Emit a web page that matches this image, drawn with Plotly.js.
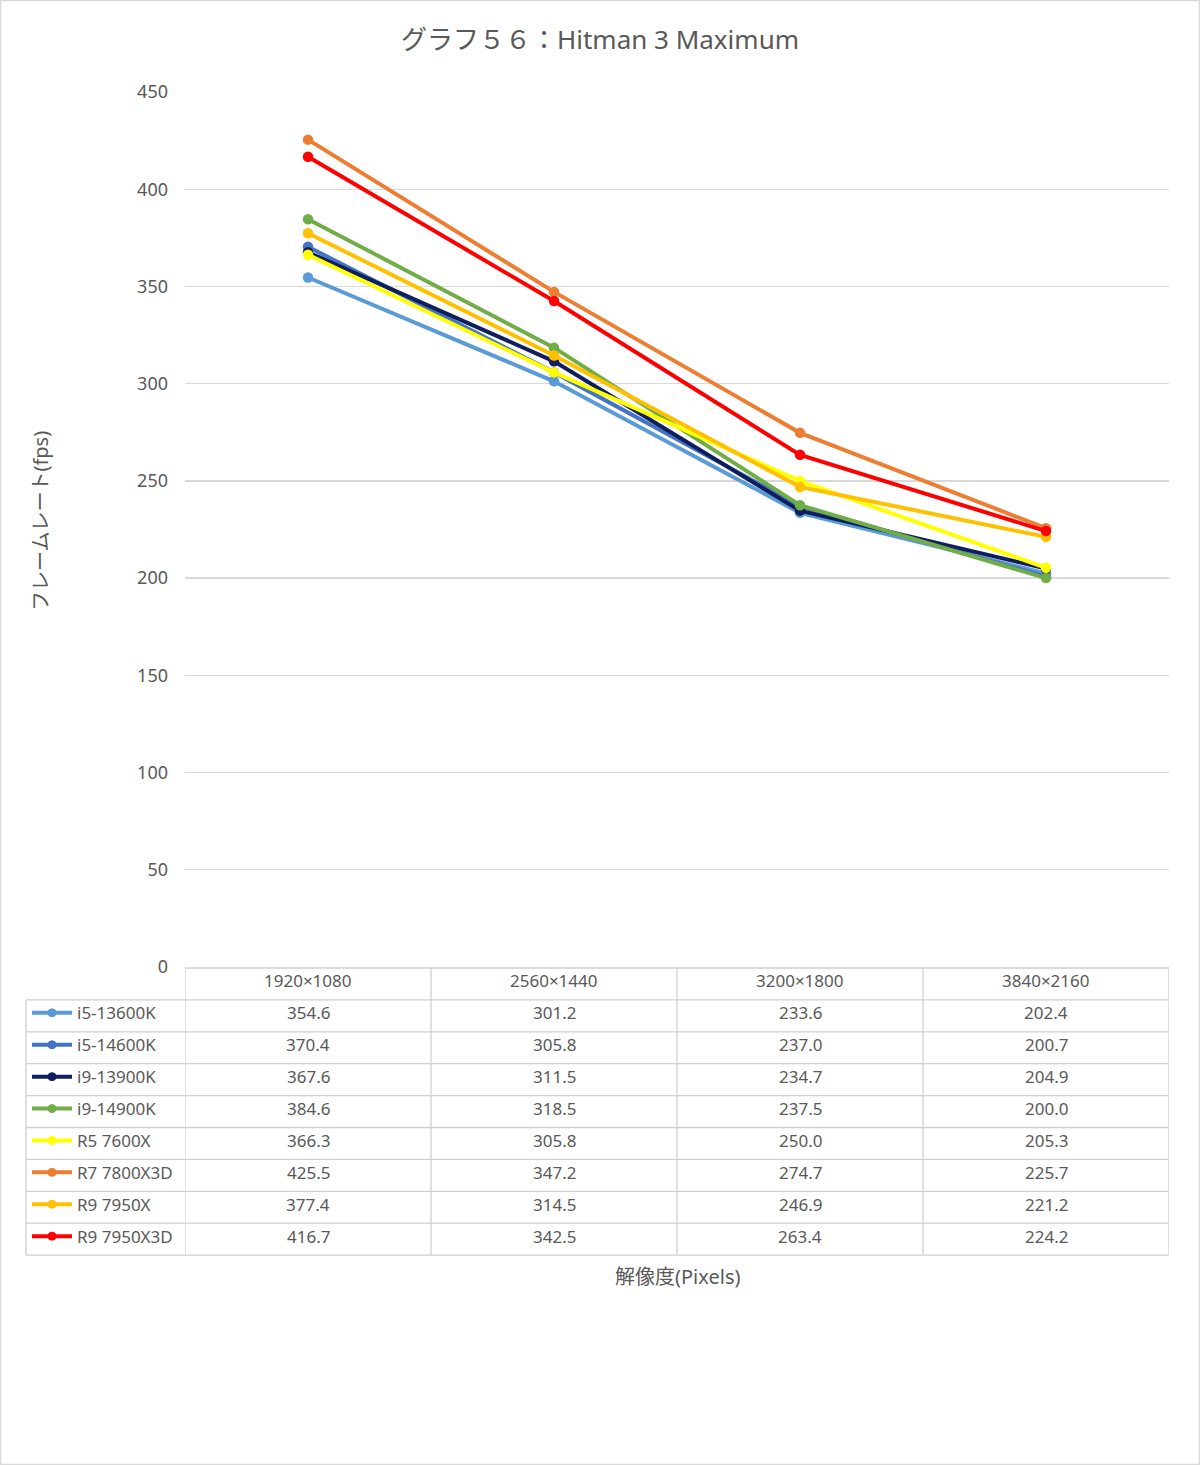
<!DOCTYPE html>
<html><head><meta charset="utf-8">
<script src="https://cdn.plot.ly/plotly-3.0.1.min.js"></script>
<style>html,body{margin:0;padding:0;background:#fff}#chart{width:1200px;height:1465px}</style>
</head><body><div id="chart"></div>
<script>
const categories = ["1920×1080", "2560×1440", "3200×1800", "3840×2160"];
const seriesNames = ["i5-13600K", "i5-14600K", "i9-13900K", "i9-14900K", "R5 7600X", "R7 7800X3D", "R9 7950X", "R9 7950X3D"];
const i5_13600K = [354.6, 301.2, 233.6, 202.4];
const i5_14600K = [370.4, 305.8, 237.0, 200.7];
const i9_13900K = [367.6, 311.5, 234.7, 204.9];
const i9_14900K = [384.6, 318.5, 237.5, 200.0];
const R5_7600X = [366.3, 305.8, 250.0, 205.3];
const R7_7800X3D = [425.5, 347.2, 274.7, 225.7];
const R9_7950X = [377.4, 314.5, 246.9, 221.2];
const R9_7950X3D = [416.7, 342.5, 263.4, 224.2];
const seriesValues = [i5_13600K, i5_14600K, i9_13900K, i9_14900K, R5_7600X, R7_7800X3D, R9_7950X, R9_7950X3D];
const colors = ["#5B9BD5", "#4472C4", "#0F1F5E", "#70AD47", "#FFFF00", "#ED7D31", "#FFC000", "#FF0000"];

(function () {
const W = 1200, H = 1465;
const L = 185, R = 1169, T = 92, B = 967;
const pw = R - L, ph = B - T;
const px = x => (x - L) / pw;
const py = y => (B - y) / ph;
const font = '"Noto Sans", "Noto Sans CJK JP", sans-serif';
const txt = '#595959';
const grid = '#D9D9D9';
const tbl = '#D0D0D0';

const traces = seriesNames.map((n, i) => ({
  type: 'scatter', mode: 'lines+markers', name: n,
  x: categories, y: seriesValues[i],
  line: {color: colors[i], width: 4},
  marker: {color: colors[i], size: 10.5},
  showlegend: false, hoverinfo: 'skip'
}));

const shapes = [];
const annotations = [];
shapes.push({type: 'rect', xref: 'paper', yref: 'paper', x0: px(0.5), x1: px(W - 0.5), y0: py(H - 0.5), y1: py(0.5), line: {color: '#D9D9D9', width: 1.5}});

const tTop = 968, rowH = 31.9, leftX = 26, tOff = -3;
const nRows = seriesNames.length + 1;
const tBottom = tTop + rowH * nRows;
for (let r = 0; r <= nRows; r++) {
  const y = tTop + r * rowH;
  shapes.push({type: 'line', xref: r === 0 ? 'x' : 'paper', yref: 'paper',
    x0: r === 0 ? -0.5 : px(leftX), x1: r === 0 ? categories.length - 0.5 : 1,
    y0: py(y), y1: py(y), line: {color: tbl, width: 1.3}});
}
shapes.push({type: 'line', xref: 'paper', yref: 'paper', x0: px(leftX), x1: px(leftX), y0: py(tTop + rowH), y1: py(tBottom), line: {color: tbl, width: 1.3}});
for (let c = 0; c <= categories.length; c++) {
  shapes.push({type: 'line', xref: 'x', yref: 'paper', x0: c - 0.5, x1: c - 0.5, y0: py(tTop), y1: py(tBottom), line: {color: tbl, width: 1.3}});
}
categories.forEach((cat, c) => {
  annotations.push({xref: 'x', yref: 'paper', x: c, y: py(tTop + rowH / 2 + tOff), text: cat, showarrow: false,
    font: {family: font, size: 17, color: txt}, xanchor: 'center', yanchor: 'middle'});
});
seriesNames.forEach((n, i) => {
  const yc = tTop + rowH * (i + 1.5);
  shapes.push({type: 'line', xref: 'paper', yref: 'paper', x0: px(32), x1: px(72), y0: py(yc + tOff), y1: py(yc + tOff), line: {color: colors[i], width: 4}});
  shapes.push({type: 'circle', xref: 'paper', yref: 'paper', x0: px(48), x1: px(56), y0: py(yc + tOff + 4), y1: py(yc + tOff - 4), fillcolor: colors[i], line: {color: colors[i], width: 1}});
  annotations.push({xref: 'paper', yref: 'paper', x: px(75), y: py(yc + tOff), text: n, showarrow: false,
    font: {family: font, size: 17, color: txt}, xanchor: 'left', yanchor: 'middle'});
  seriesValues[i].forEach((v, c) => {
    annotations.push({xref: 'x', yref: 'paper', x: c, y: py(yc + tOff), text: v.toFixed(1), showarrow: false,
      font: {family: font, size: 17, color: txt}, xanchor: 'center', yanchor: 'middle'});
  });
});

annotations.push({xref: 'paper', yref: 'paper', x: px(40), y: py(521), text: 'フレームレート(fps)', textangle: -90, showarrow: false,
  font: {family: font, size: 20, color: txt}, xanchor: 'center', yanchor: 'middle'});
annotations.push({xref: 'paper', yref: 'paper', x: px(677), y: py(1276), text: '解像度(Pixels)', showarrow: false,
  font: {family: font, size: 20, color: txt}, xanchor: 'center', yanchor: 'middle'});

const layout = {
  width: W, height: H,
  margin: {l: L, r: W - R, t: T, b: H - B, pad: 0},
  paper_bgcolor: '#fff', plot_bgcolor: '#fff',
  title: {text: 'グラフ５６：Hitman 3 Maximum', x: 0.5, xref: 'container', xanchor: 'center', y: 1 - 40 / H, yanchor: 'middle',
    font: {family: font, size: 26, color: txt}},
  xaxis: {type: 'category', range: [-0.5, categories.length - 0.5], showticklabels: false, showgrid: false, zeroline: false, showline: false, ticks: ''},
  yaxis: {range: [0, 450], dtick: 50, tick0: 0, showgrid: true, gridcolor: grid, gridwidth: 1.3, zeroline: false, showline: false,
    ticks: '', ticklabelstandoff: 16, tickfont: {family: font, size: 18, color: txt}},
  shapes, annotations,
  font: {family: font}
};
Plotly.newPlot('chart', traces, layout, {staticPlot: true, displayModeBar: false});
})();
</script></body></html>
